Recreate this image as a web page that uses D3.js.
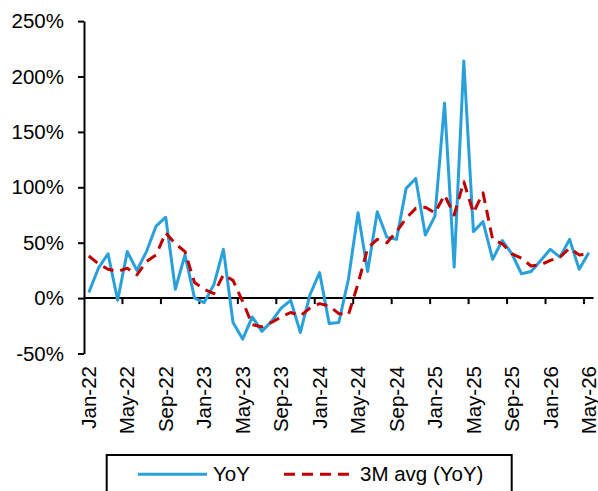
<!DOCTYPE html>
<html>
<head>
<meta charset="utf-8">
<script src="https://cdn.jsdelivr.net/npm/d3@7"></script>
<style>
  html, body { margin: 0; padding: 0; background: #fff; }
  svg { display: block; }
  text { font-family: "Liberation Sans", Arial, sans-serif; fill: #000; }
</style>
</head>
<body>
<svg id="chart" width="598" height="491"></svg>
<script>
// Monthly categories, Jan-22 .. May-26
const months = [
  "Jan-22","Feb-22","Mar-22","Apr-22","May-22","Jun-22","Jul-22","Aug-22","Sep-22","Oct-22","Nov-22","Dec-22",
  "Jan-23","Feb-23","Mar-23","Apr-23","May-23","Jun-23","Jul-23","Aug-23","Sep-23","Oct-23","Nov-23","Dec-23",
  "Jan-24","Feb-24","Mar-24","Apr-24","May-24","Jun-24","Jul-24","Aug-24","Sep-24","Oct-24","Nov-24","Dec-24",
  "Jan-25","Feb-25","Mar-25","Apr-25","May-25","Jun-25","Jul-25","Aug-25","Sep-25","Oct-25","Nov-25","Dec-25",
  "Jan-26","Feb-26","Mar-26","Apr-26","May-26"
];

// Year-on-year growth, %
const yoy = [
  5, 27, 40, -2, 42, 25, 42, 65, 73, 8, 39, 0,
  -4, 12, 44, -22, -37, -17, -30, -21, -9, -2, -31, 3,
  23, -23, -22, 17, 77, 24, 78, 55, 53, 99, 108, 57,
  74, 176, 28, 214, 60, 69, 35, 52, 40, 22, 24, 34,
  44, 37, 53, 26, 41
];

// Three-month average of YoY growth, %
const avg3m = [
  38, 31, 26, 24, 27, 21, 33, 39, 59, 49, 42, 14,
  8, 4, 21, 16, -3, -24, -26, -22, -17, -13, -16, -9,
  -5, -7, -14, -15, 13, 45, 53, 50, 60, 72, 81, 82,
  77, 93, 75, 105, 77, 95, 53, 49, 40, 36, 29, 30,
  34, 37, 45, 39, 40
];

const yTicks = [-50, 0, 50, 100, 150, 200, 250];
const labelEvery = 4;

const svg = d3.select("#chart");
const fontSize = 20.5;
const blue = "#2aa0da";
const red = "#c00000";

const x = d3.scaleBand().domain(months).range([84, 593.6]).paddingInner(0).paddingOuter(0);
const y = d3.scaleLinear().domain([-50, 250]).range([353.5, 21.1]);
const cx = m => x(m) + x.bandwidth() / 2;

// Value axis
const yAxis = d3.axisLeft(y).tickValues(yTicks).tickSize(6).tickSizeOuter(0).tickPadding(14)
  .tickFormat(d => d + "%");
const gy = svg.append("g").attr("transform", "translate(84,0)").call(yAxis);
gy.select(".domain").attr("stroke", "#000").attr("stroke-width", 2);
gy.selectAll(".tick line").attr("stroke", "#000").attr("stroke-width", 2);
gy.selectAll(".tick text").attr("font-size", fontSize).attr("font-family", null);

// Category axis line at 0%, tick marks between categories
const y0 = y(0);
svg.append("line")
  .attr("x1", 84).attr("x2", 593.6).attr("y1", y0).attr("y2", y0)
  .attr("stroke", "#000").attr("stroke-width", 2);
const tickCats = months.filter((m, i) => i % labelEvery === 0 && i > 0);
svg.append("g").selectAll("line").data(tickCats).join("line")
  .attr("x1", d => x(d)).attr("x2", d => x(d))
  .attr("y1", y0).attr("y2", y0 + 6)
  .attr("stroke", "#000").attr("stroke-width", 2);

// Category labels, rotated, below the plot
const labelCats = months.filter((m, i) => i % labelEvery === 0);
svg.append("g").selectAll("text").data(labelCats).join("text")
  .attr("transform", d => `translate(${cx(d)},366) rotate(-90)`)
  .attr("text-anchor", "end")
  .attr("dy", "0.35em")
  .attr("font-size", fontSize)
  .text(d => d);

// Series lines
const line = d3.line().x((d, i) => cx(months[i])).y(d => y(d));
svg.append("path").datum(yoy)
  .attr("d", line).attr("fill", "none")
  .attr("stroke", blue).attr("stroke-width", 3)
  .attr("stroke-linejoin", "round");
svg.append("path").datum(avg3m)
  .attr("d", line).attr("fill", "none")
  .attr("stroke", red).attr("stroke-width", 3)
  .attr("stroke-dasharray", "11,7")
  .attr("stroke-linejoin", "round");

// Legend
const lg = svg.append("g");
lg.append("rect").attr("x", 106.7).attr("y", 455).attr("width", 405).attr("height", 60)
  .attr("fill", "#fff").attr("stroke", "#000").attr("stroke-width", 2);
lg.append("line").attr("x1", 138).attr("x2", 207).attr("y1", 474.3).attr("y2", 474.3)
  .attr("stroke", blue).attr("stroke-width", 3);
lg.append("text").attr("x", 213).attr("y", 474.3).attr("dy", "0.35em")
  .attr("font-size", fontSize).text("YoY");
lg.append("line").attr("x1", 284).attr("x2", 350).attr("y1", 474.3).attr("y2", 474.3)
  .attr("stroke", red).attr("stroke-width", 3).attr("stroke-dasharray", "11,7");
lg.append("text").attr("x", 360).attr("y", 474.3).attr("dy", "0.35em")
  .attr("font-size", fontSize).text("3M avg (YoY)");
</script>
</body>
</html>
